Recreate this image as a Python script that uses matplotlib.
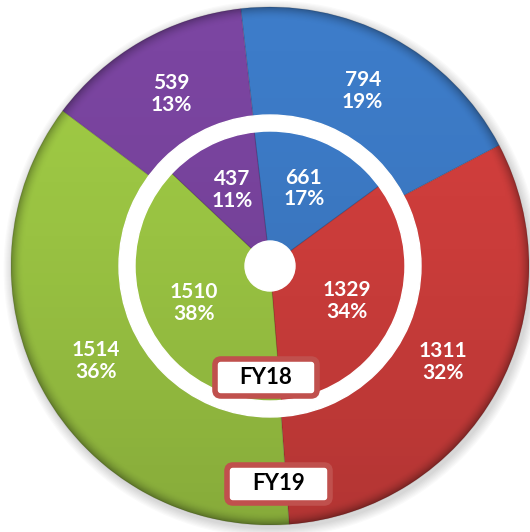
import numpy as np
import matplotlib.pyplot as plt
from matplotlib.patches import Circle, Wedge, FancyBboxPatch

# data (clockwise from the top)
categories = ['Blue', 'Red', 'Green', 'Purple']
fy19_values = [794, 1311, 1514, 539]
fy18_values = [661, 1329, 1510, 437]
ring_names = ['FY18', 'FY19']
colors = ['#3d7cc9', '#d43f3d', '#a0cb45', '#7b45a1']

W, H = 530, 532
cx, cy = 270, H - 266      # pie centre in pixel units
R_out = 259                # outer pie (FY19)
R_in = 151                 # inner pie (FY18), ring sits on its rim
ring_w = 16
hole_r = 25


def make_pct(vals):
    tot = sum(vals)
    def fmt(p):
        return '{:.0f}\n{:.0f}%'.format(p * tot / 100.0, p)
    return fmt


fig = plt.figure(figsize=(W / 100, H / 100), dpi=100)
ax = fig.add_axes([0, 0, 1, 1])

txt = dict(color='white', fontsize=15, fontweight='bold', family='Lato',
           linespacing=1.12)
wp = dict(linewidth=0.8, edgecolor=(0, 0, 0, 0.12))

# soft shadow behind the pie
for k in range(8):
    ax.add_patch(Circle((cx + 2, cy - 3), R_out + 1 + k * 1.2,
                        color='black', alpha=0.02, zorder=0.1, lw=0))

ax.pie(fy19_values, radius=R_out, center=(cx, cy), colors=colors,
       startangle=96.5, counterclock=False, autopct=make_pct(fy19_values),
       pctdistance=0.765, textprops=txt, wedgeprops=wp)
ax.pie(fy18_values, radius=R_in, center=(cx, cy), colors=colors,
       startangle=96.7, counterclock=False, autopct=make_pct(fy18_values),
       pctdistance=0.56, textprops=txt, wedgeprops=wp)

# shading: darker toward the bottom and at the rim
n = 600
xs = np.linspace(cx - R_out, cx + R_out, n)
ys = np.linspace(cy - R_out, cy + R_out, n)
X, Y = np.meshgrid(xs, ys)
r = np.hypot(X - cx, Y - cy) / R_out
t = (Y - (cy - R_out)) / (2 * R_out)
alpha = 0.16 * (1 - t) ** 1.5 + 0.28 * np.clip((r - 0.95) / 0.05, 0, 1) ** 2
shade = np.zeros((n, n, 4))
shade[..., 3] = np.clip(alpha, 0, 1)
im = ax.imshow(shade, extent=(cx - R_out, cx + R_out, cy - R_out, cy + R_out),
               origin='lower', zorder=1.5, interpolation='bilinear')
im.set_clip_path(Circle((cx, cy), R_out, transform=ax.transData))

# white ring and centre hole
ax.add_patch(Wedge((cx, cy), R_in, 0, 360, width=ring_w, color='white', zorder=2))
ax.add_patch(Circle((cx, cy), hole_r, color='white', zorder=2))

# series name boxes
boxes = [(215, 136, 102, 37), (227, 29, 103, 38)]
for name, (x0, y0, w, h) in zip(ring_names, boxes):
    ax.add_patch(FancyBboxPatch((x0, y0), w, h,
                                boxstyle='round,pad=0,rounding_size=6',
                                fc='white', ec='#c0504d', lw=4, zorder=4))
    ax.text(x0 + w / 2, y0 + h / 2, name, ha='center', va='center',
            fontsize=16, fontweight='bold', family='Lato', color='black',
            zorder=5)

ax.set_xlim(0, W)
ax.set_ylim(0, H)
ax.set_aspect('equal')
ax.axis('off')
fig.savefig('out.png', dpi=100)
